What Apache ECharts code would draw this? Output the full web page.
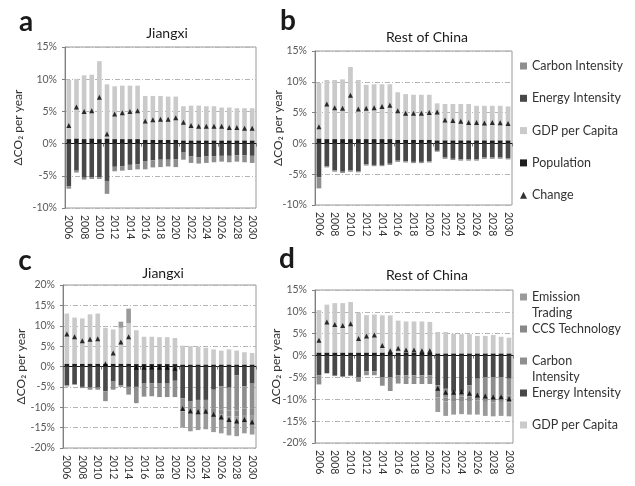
<!DOCTYPE html>
<html><head><meta charset="utf-8">
<script src="https://cdn.jsdelivr.net/npm/echarts@6/dist/echarts.min.js"></script>
<style>html,body{margin:0;padding:0;background:#fff}#c{width:635px;height:486px}</style>
</head><body><div id="c"></div>
<script>
const years = ['2006','2007','2008','2009','2010','2011','2012','2013','2014','2015','2016','2017','2018','2019','2020','2021','2022','2023','2024','2025','2026','2027','2028','2029','2030'];
const yTicksAB = [-10, 15];
const yTicksC = [-20, 20];
const yTicksD = [-20, 15];

// Panel a: Jiangxi
const aPopulation = [0.7,0.8,0.7,0.8,0.7,0.8,0.7,0.7,0.7,0.7,0.6,0.6,0.6,0.6,0.6,0.5,0.5,0.5,0.5,0.5,0.5,0.5,0.5,0.5,0.5];
const aGDP = [9.2,9.25,9.9,9.9,12.1,8.4,8.2,8.3,8.3,8.3,6.8,6.8,6.8,6.7,6.7,5.3,5.4,5.4,5.3,5.3,5.1,5.1,5.0,5.0,5.0];
const aEnergy = [-6.6,-4.2,-5.3,-5.2,-5.2,-5.8,-3.6,-3.5,-3.3,-3.2,-2.7,-2.6,-2.5,-2.5,-2.4,-1.4,-2.0,-2.1,-2.0,-2.0,-1.9,-1.9,-1.8,-1.8,-1.9];
const aCarbon = [-0.4,-0.3,-0.3,-0.3,-0.3,-2.0,-0.7,-0.7,-0.8,-0.8,-1.3,-1.1,-1.15,-1.05,-1.25,-1.1,-1.0,-1.0,-1.0,-0.9,-0.9,-1.0,-1.0,-1.1,-1.1];
const aChange = [2.8,5.7,5.0,5.1,7.2,1.5,4.6,4.8,5.0,5.1,3.5,3.7,3.8,3.8,4.0,3.3,2.8,2.7,2.7,2.7,2.7,2.5,2.5,2.4,2.4];

// Panel b: Rest of China
const bPopulation = [0.8,0.7,0.7,0.7,0.7,0.7,0.7,0.7,0.7,0.7,0.6,0.6,0.6,0.6,0.6,0.5,0.5,0.5,0.5,0.5,0.5,0.5,0.5,0.5,0.5];
const bGDP = [9.0,9.6,9.6,9.7,11.7,9.6,8.8,8.9,8.9,8.9,7.7,7.4,7.3,7.3,7.3,6.0,5.9,5.9,5.9,5.9,5.6,5.6,5.6,5.6,5.5];
const bEnergy = [-5.5,-3.7,-4.4,-4.6,-4.4,-4.5,-3.4,-3.5,-3.5,-3.3,-2.8,-2.9,-3.0,-3.0,-2.9,-1.2,-2.3,-2.5,-2.6,-2.6,-2.6,-2.3,-2.3,-2.3,-2.4];
const bCarbon = [-1.8,-0.2,-0.2,-0.2,-0.2,-0.2,-0.2,-0.2,-0.2,-0.2,-0.2,-0.2,-0.2,-0.2,-0.2,-0.15,-0.2,-0.2,-0.2,-0.2,-0.2,-0.2,-0.2,-0.2,-0.2];
const bChange = [2.7,6.4,5.8,5.7,7.8,5.6,5.7,5.8,6.0,6.2,5.3,4.9,4.9,4.9,5.0,5.1,3.8,3.7,3.6,3.4,3.4,3.3,3.4,3.35,3.25];

// Panel c: Jiangxi (policy scenario)
const cPopulation = [0.7,0.7,0.7,0.7,0.7,0.7,0.7,0.7,0.7,0.6,0.6,0.6,0.6,0.6,0.6,0.5,0.5,0.5,0.5,0.5,0.5,0.5,0.5,0.5,0.5];
const cGDP = [12.3,11.3,11.1,12.1,12.3,8.8,8.4,8.8,9.9,8.3,6.7,6.7,6.6,6.6,6.4,4.6,4.5,4.4,4.1,3.7,3.4,3.7,3.4,3.0,2.8];
const cEnergy = [-4.6,-4.3,-5.0,-5.2,-5.2,-6.1,-3.7,-4.6,-5.0,-5.0,-4.2,-4.1,-4.2,-4.2,-3.5,-7.8,-8.6,-8.2,-8.2,-5.7,-4.9,-5.2,-2.2,-4.9,-4.2];
const cCarbon = [-0.3,-0.2,-0.3,-0.5,-0.5,-2.4,-2.0,-0.4,-1.9,-4.0,-3.2,-3.2,-3.3,-3.3,-4.0,-2.4,-2.1,-2.0,-2.0,-4.7,-5.6,-5.6,-8.6,-5.4,-6.2];
const cCCS = [0,0,0,0,0,0,0,0,0,0,0,0,0,0,0,-0.8,-0.9,-1.0,-1.0,-1.2,-1.3,-1.4,-1.5,-1.6,-1.7];
const cTrading = [0,0,0,0,0,0,0,1.5,3.6,0,0,0,0,0,0,-4.0,-4.3,-4.4,-4.2,-4.5,-4.6,-4.7,-4.8,-4.5,-4.6];
const cChange = [8.0,7.3,6.3,6.7,6.8,0.7,3.3,6.0,7.3,-0.2,-0.2,-0.1,-0.2,-0.2,-0.4,-10.3,-10.9,-11.1,-11.0,-11.7,-12.4,-13.0,-13.4,-13.0,-13.6];

// Panel d: Rest of China (policy scenario)
const dPopulation = [0.7,0.7,0.7,0.7,0.7,0.7,0.7,0.7,0.7,0.7,0.6,0.6,0.6,0.6,0.6,0.5,0.5,0.5,0.5,0.5,0.5,0.5,0.5,0.5,0.5];
const dGDP = [9.7,10.95,11.3,11.3,11.55,9.1,8.55,8.7,8.5,8.5,7.4,7.2,7.2,7.2,7.1,4.9,4.9,4.5,4.4,4.4,4.0,4.0,4.2,3.8,3.6];
const dEnergy = [-4.5,-4.0,-4.6,-4.8,-4.6,-4.9,-3.6,-3.6,-4.9,-4.9,-4.5,-4.5,-4.5,-4.5,-4.5,-6.8,-7.6,-8.3,-8.3,-6.8,-5.3,-4.9,-4.9,-4.9,-5.3];
const dCarbon = [-2.1,-0.1,-0.1,-0.1,-0.1,-1.1,-0.9,-0.9,-2.0,-3.2,-1.9,-2.0,-2.0,-2.0,-2.0,-2.0,-2.0,-1.2,-1.1,-2.5,-3.8,-4.4,-4.4,-4.2,-3.8];
const dCCS = [0,0,0,0,0,0,0,0,0,0,0,0,0,0,0,-0.8,-0.9,-0.9,-1.0,-1.1,-1.2,-1.3,-1.4,-1.5,-1.6];
const dTrading = [0,0,0,0,0,0,0,0,0,0,0,0,0,0,0,-3.3,-3.3,-3.1,-3.0,-3.1,-3.2,-3.2,-3.2,-3.2,-3.2];
const dChange = [3.5,7.7,7.1,6.9,7.3,3.9,4.5,4.7,2.3,1.1,1.65,1.3,1.3,1.1,1.1,-7.5,-8.4,-8.4,-8.3,-8.6,-9.0,-9.25,-9.5,-9.4,-9.85];

const COL = {
  'Population':'#1e1e1e',
  'Energy Intensity':'#484848',
  'Carbon Intensity':'#8e8e8e',
  'CCS Technology':'#888888',
  'Emission Trading':'#9a9a9a',
  'GDP per Capita':'#cacaca'
};
const FONT = 'Lato, "Noto Sans", sans-serif';

const grids = [
  {left:65, top:47, width:191, height:161},
  {left:315, top:51, width:197, height:154},
  {left:63, top:285, width:193, height:163},
  {left:315, top:290, width:198, height:153}
];
const yRanges = [yTicksAB, yTicksAB, yTicksC, yTicksD];
const nameGaps = [41, 31, 36, 33];

const xAxes = [], yAxes = [];
grids.forEach((g, i) => {
  xAxes.push({
    type:'category', gridIndex:i, data:years, position:'bottom',
    axisLine:{show:false, onZero:false}, axisTick:{show:false},
    axisLabel:{rotate:-90, interval:1, fontSize:10.5, color:'#333', margin:7, fontFamily:FONT},
    splitLine:{show:false}
  });
  xAxes.push({
    type:'category', gridIndex:i, data:years, position:'top',
    axisLine:{show:true, onZero:true, lineStyle:{color:'#111', width:1}},
    axisTick:{show:true, inside:true, length:3, lineStyle:{color:'#777'}},
    axisLabel:{show:false}, splitLine:{show:false}
  });
  yAxes.push({
    type:'value', gridIndex:i, min:yRanges[i][0], max:yRanges[i][1], interval:5,
    name:'ΔCO₂ per year', nameLocation:'middle', nameGap:nameGaps[i], nameMoveOverlap:false,
    nameTextStyle:{fontSize:12, color:'#333', fontFamily:FONT},
    axisLine:{show:true, lineStyle:{color:'#808080'}},
    axisTick:{show:true, length:3, lineStyle:{color:'#808080'}},
    axisLabel:{formatter:'{value}%', fontSize:10.5, color:'#595959', margin:8, fontFamily:FONT},
    splitLine:{show:true, lineStyle:{color:'#b5b5b5', type:[5,2,1,2], width:1}}
  });
});

function bar(name, data, g) {
  return {name, type:'bar', xAxisIndex:2*g, yAxisIndex:g, stack:'s'+g, stackStrategy:'samesign',
    data, barWidth:'60%', itemStyle:{color:COL[name]}, emphasis:{disabled:true}};
}
function change(data, g) {
  return {name:'Change', type:'scatter', xAxisIndex:2*g, yAxisIndex:g, data,
    symbol:'triangle', symbolSize:5, itemStyle:{color:'#000'}, z:5, emphasis:{disabled:true}};
}

const series = [
  bar('Population', aPopulation, 0), bar('Energy Intensity', aEnergy, 0), bar('Carbon Intensity', aCarbon, 0), bar('GDP per Capita', aGDP, 0), change(aChange, 0),
  bar('Population', bPopulation, 1), bar('Energy Intensity', bEnergy, 1), bar('Carbon Intensity', bCarbon, 1), bar('GDP per Capita', bGDP, 1), change(bChange, 1),
  bar('Population', cPopulation, 2), bar('Energy Intensity', cEnergy, 2), bar('Carbon Intensity', cCarbon, 2), bar('CCS Technology', cCCS, 2), bar('GDP per Capita', cGDP, 2), bar('Emission Trading', cTrading, 2), change(cChange, 2),
  bar('Population', dPopulation, 3), bar('Energy Intensity', dEnergy, 3), bar('Carbon Intensity', dCarbon, 3), bar('CCS Technology', dCCS, 3), bar('GDP per Capita', dGDP, 3), bar('Emission Trading', dTrading, 3), change(dChange, 3)
];

const legTxt = {fontSize:12.5, color:'#333', fontFamily:FONT, lineHeight:16};
const legends = [
  {orient:'vertical', left:520, top:58, padding:0, itemGap:16.3, itemWidth:7, itemHeight:7, textStyle:legTxt, selectedMode:false,
   data:[{name:'Carbon Intensity',icon:'rect'},{name:'Energy Intensity',icon:'rect'},{name:'GDP per Capita',icon:'rect'},{name:'Population',icon:'rect'},{name:'Change',icon:'triangle'}]}
];
function oneLeg(name, label, top) {
  return {orient:'vertical', left:520, top, padding:0, itemWidth:7, itemHeight:7, selectedMode:false,
    formatter: label, textStyle: legTxt, data:[{name, icon:'rect'}]};
}
// two-line labels get a leading empty line so the icon sits beside the first word
legends.push(oneLeg('Emission Trading', '\nEmission\nTrading', 297-24));
legends.push(oneLeg('CCS Technology', 'CCS Technology', 329-8));
legends.push(oneLeg('Carbon Intensity', '\nCarbon\nIntensity', 361-24));
legends.push(oneLeg('Energy Intensity', 'Energy Intensity', 393-8));
legends.push(oneLeg('GDP per Capita', 'GDP per Capita', 425-8));

function txt(s, x, y, font) {
  return {type:'text', x, y, style:{text:s, font, fill:'#1a1a1a', align:'center', verticalAlign:'middle'}};
}
const graphic = [
  txt('a', 26, 22, 'bold 28px ' + FONT),
  txt('b', 288, 21, 'bold 28px ' + FONT),
  txt('c', 25, 261, 'bold 28px ' + FONT),
  txt('d', 287, 259, 'bold 28px ' + FONT),
  txt('Jiangxi', 167, 33, '14px ' + FONT),
  txt('Rest of China', 427, 37, '14px ' + FONT),
  txt('Jiangxi', 163, 273, '14px ' + FONT),
  txt('Rest of China', 427, 275, '14px ' + FONT)
];

const chart = echarts.init(document.getElementById('c'), null, {renderer:'canvas'});
chart.setOption({
  animation:false,
  backgroundColor:'#fff',
  grid: grids.map(g => Object.assign({show:true, borderColor:'#9a9a9a', borderWidth:1, backgroundColor:'transparent'}, g)),
  xAxis:xAxes, yAxis:yAxes, legend:legends, series, graphic
});
</script></body></html>
